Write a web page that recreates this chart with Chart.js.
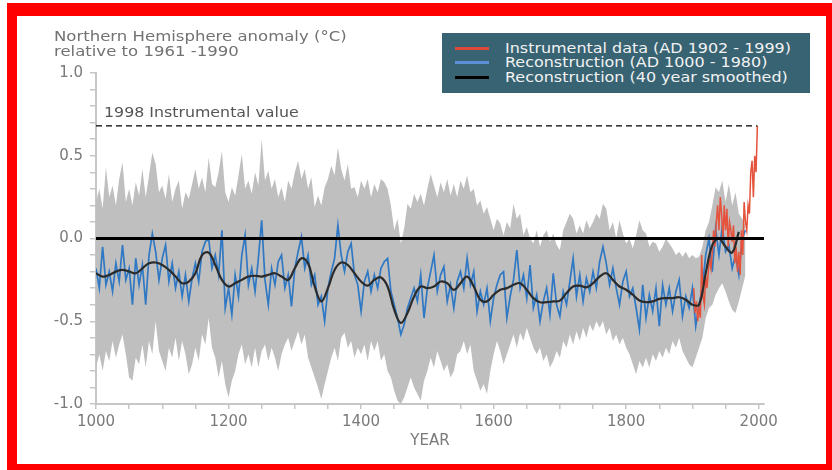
<!DOCTYPE html>
<html>
<head>
<meta charset="utf-8">
<script src="https://cdn.jsdelivr.net/npm/chart.js@4.4.0/dist/chart.umd.min.js"></script>
<style>
  body { margin: 0; width: 832px; height: 470px; overflow: hidden; background: #fff; position: relative; font-family: "DejaVu Sans", sans-serif; }
  #frame { position: absolute; left: 7px; top: 3px; width: 825px; height: 467px; background: #f00; }
  #inner { position: absolute; left: 17px; top: 16px; width: 809px; height: 448px; background: #fff; }
  #chart { position: absolute; left: 0; top: 0; }
  .txt { position: absolute; white-space: nowrap; transform-origin: 0 0; font-size: 14px; line-height: 15px; }
  #title { left: 54px; top: 29px; color: #727272; transform: scaleX(1.18); }
  #note { left: 104px; top: 105px; color: #555; transform: scaleX(1.13); }
  #legend { position: absolute; left: 442px; top: 33px; width: 368px; height: 60px; background: #386373; }
  #legend .swatch { position: absolute; left: 13px; width: 34px; height: 3px; }
  #legend .txt { left: 63px; color: #f2f2f2; transform: scaleX(1.14); }
</style>
</head>
<body>
<div id="frame"></div>
<div id="inner"></div>
<canvas id="chart" width="832" height="470"></canvas>
<div class="txt" id="title">Northern Hemisphere anomaly (°C)<br>relative to 1961 -1990</div>
<div class="txt" id="note">1998 Instrumental value</div>
<div id="legend">
  <div class="swatch" style="top:14px;background:#e0483a"></div>
  <div class="txt" style="top:8px">Instrumental data (AD 1902 - 1999)</div>
  <div class="swatch" style="top:28px;background:#5b8fd6"></div>
  <div class="txt" style="top:22px">Reconstruction (AD 1000 - 1980)</div>
  <div class="swatch" style="top:43px;background:#000"></div>
  <div class="txt" style="top:37px">Reconstruction (40 year smoothed)</div>
</div>

<script>
// ===== DATA =====
// annual reconstruction, read every 5 years, 1000 - 1980
const reconStart = 1000;
const reconStep = 5;
const reconValues = [
  -0.18,-0.30,-0.05,-0.28,-0.20,-0.32,-0.15,-0.26,-0.04,-0.25, // 1000
  -0.18,-0.40,-0.12,-0.28,-0.16,-0.40,-0.10,0.03,-0.08,-0.25,  // 1050
  -0.12,-0.04,-0.26,-0.15,-0.30,-0.20,-0.35,-0.22,-0.38,-0.24, // 1100
  -0.15,-0.26,-0.08,-0.02,0.00,-0.18,-0.10,-0.22,0.05,-0.42,   // 1150
  -0.30,-0.46,-0.22,-0.35,-0.10,0.02,-0.28,-0.18,-0.32,-0.12,  // 1200
  0.11,-0.25,-0.40,-0.18,-0.28,-0.14,-0.10,-0.30,-0.22,-0.41,  // 1250
  -0.18,-0.08,0.01,-0.18,-0.10,-0.28,-0.22,-0.40,-0.35,-0.50,  // 1300
  -0.30,-0.20,-0.12,0.08,-0.10,-0.20,-0.08,-0.03,-0.22,-0.28,  // 1350
  -0.44,-0.26,-0.20,-0.32,-0.22,-0.30,-0.18,-0.14,-0.12,-0.32, // 1400
  -0.40,-0.48,-0.58,-0.52,-0.42,-0.36,-0.30,-0.38,-0.22,-0.48, // 1450
  -0.30,-0.20,-0.10,-0.32,-0.22,-0.17,-0.38,-0.28,-0.42,-0.26, // 1500
  -0.20,-0.30,-0.12,-0.28,-0.20,-0.44,-0.32,-0.40,-0.30,-0.50, // 1550
  -0.36,-0.28,-0.22,-0.20,-0.48,-0.35,-0.25,-0.07,-0.30,-0.22, // 1600
  -0.36,-0.16,-0.42,-0.34,-0.50,-0.38,-0.30,-0.46,-0.21,-0.40, // 1650
  -0.47,-0.32,-0.40,-0.26,-0.12,-0.35,-0.22,-0.38,-0.24,-0.32, // 1700
  -0.20,-0.30,-0.14,-0.05,-0.15,-0.28,-0.18,-0.30,-0.40,-0.26, // 1750
  -0.20,-0.35,-0.30,-0.42,-0.55,-0.28,-0.48,-0.34,-0.44,-0.30, // 1800
  -0.53,-0.28,-0.40,-0.30,-0.44,-0.32,-0.25,-0.47,-0.35,-0.42, // 1850
  -0.30,-0.53,-0.40,-0.30,-0.10,0.00,-0.20,0.06,-0.10,0.07,    // 1900
  -0.08,-0.04,-0.18,-0.10,-0.22,0.00,0.05                      // 1950
];

// uncertainty band (upper / lower), same years as the reconstruction
const bandUpper = [
  0.22,0.30,0.18,0.43,0.25,0.32,0.20,0.36,0.46,0.22,  // 1000
  0.30,0.20,0.34,0.26,0.42,0.25,0.38,0.52,0.45,0.28,  // 1050
  0.32,0.24,0.39,0.22,0.30,0.35,0.18,0.28,0.24,0.33,  // 1100
  0.42,0.30,0.37,0.28,0.49,0.33,0.31,0.40,0.53,0.28,  // 1150
  0.22,0.31,0.26,0.38,0.51,0.30,0.35,0.27,0.40,0.32,  // 1200
  0.60,0.35,0.41,0.30,0.36,0.25,0.31,0.22,0.35,0.30,  // 1250
  0.40,0.47,0.36,0.42,0.30,0.37,0.19,0.26,0.20,0.31,  // 1300
  0.36,0.44,0.38,0.55,0.42,0.35,0.45,0.30,0.31,0.25,  // 1350
  0.35,0.30,0.36,0.25,0.33,0.28,0.36,0.34,0.30,0.20,  // 1400
  0.05,0.12,-0.03,0.06,0.21,0.18,0.27,0.22,0.27,0.20, // 1450
  0.30,0.39,0.32,0.25,0.34,0.28,0.36,0.26,0.33,0.25,  // 1500
  0.35,0.30,0.38,0.28,0.30,0.20,0.23,0.15,0.19,0.12,  // 1550
  0.05,0.12,0.09,0.02,0.10,0.06,0.21,0.12,0.15,0.02,  // 1600
  0.07,0.00,-0.03,0.05,-0.05,0.02,0.05,-0.02,0.03,-0.04, // 1650
  -0.07,0.05,0.10,0.15,0.12,0.03,0.08,0.03,0.11,0.06, // 1700
  0.10,0.15,0.12,0.21,0.18,0.05,0.10,0.00,0.11,0.03,  // 1750
  -0.03,0.00,-0.06,0.02,0.11,0.05,0.03,-0.05,-0.02,-0.03, // 1800
  -0.08,-0.05,0.00,-0.03,-0.06,-0.10,-0.08,-0.11,-0.08,-0.12, // 1850
  -0.10,-0.12,-0.11,-0.05,0.05,0.10,0.20,0.31,0.28,0.35, // 1900
  0.22,0.33,0.20,0.28,0.15,0.12,0.08                  // 1950
];
const bandLower = [
  -0.78,-0.70,-0.80,-0.68,-0.74,-0.62,-0.72,-0.64,-0.58,-0.70, // 1000
  -0.84,-0.86,-0.72,-0.76,-0.64,-0.78,-0.62,-0.70,-0.50,-0.68, // 1050
  -0.74,-0.80,-0.66,-0.72,-0.60,-0.74,-0.62,-0.70,-0.82,-0.76, // 1100
  -0.66,-0.74,-0.58,-0.64,-0.48,-0.66,-0.72,-0.84,-0.74,-0.88, // 1150
  -0.96,-0.86,-0.80,-0.70,-0.64,-0.76,-0.70,-0.78,-0.66,-0.78, // 1200
  -0.68,-0.64,-0.74,-0.66,-0.72,-0.80,-0.70,-0.64,-0.60,-0.68, // 1250
  -0.62,-0.56,-0.64,-0.58,-0.72,-0.78,-0.84,-0.90,-0.97,-0.88, // 1300
  -0.80,-0.72,-0.66,-0.74,-0.60,-0.57,-0.66,-0.62,-0.72,-0.66, // 1350
  -0.70,-0.64,-0.74,-0.62,-0.68,-0.62,-0.74,-0.70,-0.80,-0.84, // 1400
  -0.92,-0.98,-1.00,-0.96,-0.90,-0.84,-0.90,-0.94,-0.98,-0.86, // 1450
  -0.80,-0.72,-0.78,-0.68,-0.74,-0.80,-0.76,-0.84,-0.80,-0.70, // 1500
  -0.68,-0.62,-0.70,-0.64,-0.80,-0.86,-0.92,-0.88,-0.94,-0.80, // 1550
  -0.70,-0.62,-0.68,-0.76,-0.70,-0.64,-0.58,-0.66,-0.57,-0.62, // 1600
  -0.54,-0.60,-0.66,-0.70,-0.66,-0.74,-0.70,-0.78,-0.74,-0.68, // 1650
  -0.72,-0.62,-0.66,-0.58,-0.64,-0.56,-0.62,-0.54,-0.60,-0.52, // 1700
  -0.56,-0.50,-0.54,-0.50,-0.58,-0.54,-0.62,-0.58,-0.64,-0.60, // 1750
  -0.66,-0.70,-0.76,-0.82,-0.74,-0.78,-0.72,-0.78,-0.70,-0.74, // 1800
  -0.68,-0.72,-0.66,-0.70,-0.62,-0.66,-0.60,-0.68,-0.72,-0.76, // 1850
  -0.78,-0.72,-0.66,-0.60,-0.48,-0.42,-0.40,-0.34,-0.30,-0.27, // 1900
  -0.32,-0.38,-0.43,-0.45,-0.38,-0.30,-0.22                    // 1950
];

// 40 year smoothed reconstruction, every 10 years, 1000 - 1970
const smoothStart = 1000;
const smoothStep = 10;
const smoothValues = [
  -0.21,-0.23,-0.22,-0.20,-0.19,-0.20,-0.21,-0.18,-0.15,-0.145,   // 1000
  -0.16,-0.19,-0.23,-0.27,-0.26,-0.21,-0.10,-0.085,-0.16,-0.25,   // 1100
  -0.29,-0.27,-0.25,-0.23,-0.225,-0.23,-0.22,-0.21,-0.23,-0.25,   // 1200
  -0.18,-0.12,-0.15,-0.29,-0.38,-0.30,-0.19,-0.145,-0.16,-0.21,   // 1300
  -0.26,-0.285,-0.25,-0.235,-0.29,-0.43,-0.51,-0.45,-0.35,-0.29,  // 1400
  -0.30,-0.29,-0.26,-0.27,-0.31,-0.27,-0.23,-0.29,-0.37,-0.38,    // 1500
  -0.34,-0.31,-0.30,-0.28,-0.27,-0.31,-0.36,-0.385,-0.385,-0.38,  // 1600
  -0.375,-0.33,-0.29,-0.285,-0.295,-0.27,-0.23,-0.21,-0.25,-0.29, // 1700
  -0.31,-0.34,-0.375,-0.385,-0.38,-0.365,-0.36,-0.36,-0.355,-0.37,// 1800
  -0.40,-0.40,-0.21,-0.04,0.00,-0.05,-0.085,0.04                  // 1900
];

// instrumental record, every 2 years, 1902 - 1998
const instStart = 1902;
const instStep = 2;
const instValues = [
  -0.30,-0.45,-0.38,-0.50,-0.42,-0.48,-0.10,-0.35,-0.40,-0.22, // 1902
  -0.30,-0.20,-0.12,-0.18,-0.08,0.05,-0.05,0.10,0.20,0.05,     // 1922
  0.25,0.15,0.00,0.20,0.05,0.18,-0.05,0.10,0.05,-0.02,         // 1942
  0.08,-0.15,-0.05,-0.20,-0.08,-0.22,0.05,-0.10,0.22,0.10,     // 1962
  0.05,0.20,0.15,0.40,0.47,0.25,0.50,0.40,0.68                 // 1982
];

const value1998 = 0.68;
const xTickYears = [1000,1050,1100,1150,1200,1250,1300,1350,1400,1450,1500,
                    1550,1600,1650,1700,1750,1800,1850,1900,1950,2000];

// ===== CHART =====
const pts = (start, step, vals) => vals.map((v, i) => ({ x: start + i * step, y: v }));

Chart.defaults.font.family = '"DejaVu Sans", sans-serif';
const axisGrey = '#c6c6c6';
const labelGrey = '#7a7a7a';

new Chart(document.getElementById('chart'), {
  type: 'line',
  data: {
    datasets: [
      { data: pts(reconStart, reconStep, bandUpper), borderWidth: 0, pointRadius: 0,
        backgroundColor: '#bfbfbf', fill: '+1', order: 7 },
      { data: pts(reconStart, reconStep, bandLower), borderWidth: 0, pointRadius: 0,
        fill: false, order: 6 },
      { data: pts(reconStart, reconStep, reconValues), borderColor: '#2f78c4', borderWidth: 1.7,
        pointRadius: 0, fill: false, order: 5 },
      { data: pts(instStart, instStep, instValues), borderColor: '#e5533d', borderWidth: 1.5,
        pointRadius: 0, fill: false, order: 4 },
      { data: pts(smoothStart, smoothStep, smoothValues), borderColor: '#2b2b2b', borderWidth: 2.2,
        pointRadius: 0, tension: 0.4, fill: false, order: 3 },
      { data: [{ x: 1000, y: 0 }, { x: 2008, y: 0 }], borderColor: '#000', borderWidth: 3,
        pointRadius: 0, fill: false, order: 2 },
      { data: [{ x: 1000, y: value1998 }, { x: 1998, y: value1998 }], borderColor: '#000',
        borderWidth: 1.2, borderDash: [6, 4], pointRadius: 0, fill: false, order: 1 }
    ]
  },
  options: {
    responsive: false,
    animation: false,
    events: [],
    layout: { padding: { left: 0, top: 73, right: 68, bottom: 16 } },
    plugins: { legend: { display: false }, tooltip: { enabled: false } },
    scales: {
      x: {
        type: 'linear', min: 1000, max: 2008,
        afterBuildTicks: s => { s.ticks = xTickYears.map(v => ({ value: v })); },
        afterFit: s => { s.height = 50; },
        ticks: { autoSkip: false, maxRotation: 0, padding: 4, color: labelGrey,
                 font: { size: 15 }, callback: v => (v % 200 === 0 ? String(v) : '') },
        grid: { drawOnChartArea: false, tickLength: 5, color: axisGrey, lineWidth: 1.5 },
        border: { color: axisGrey, width: 2 },
        title: { display: true, text: 'YEAR', color: labelGrey, font: { size: 15 },
                 padding: { top: 4, bottom: 4 } }
      },
      y: {
        min: -1, max: 1,
        afterFit: s => { s.width = 96; },
        ticks: { stepSize: 0.1, autoSkip: false, padding: 7, color: labelGrey, font: { size: 15 },
                 callback: v => {
                   const t = Math.round(v * 10);
                   return t % 5 === 0 ? (t / 10).toFixed(1) : '';
                 } },
        grid: { drawOnChartArea: false, tickLength: 6, color: axisGrey, lineWidth: 1.5 },
        border: { color: axisGrey, width: 2 }
      }
    }
  }
});
</script>
</body>
</html>
